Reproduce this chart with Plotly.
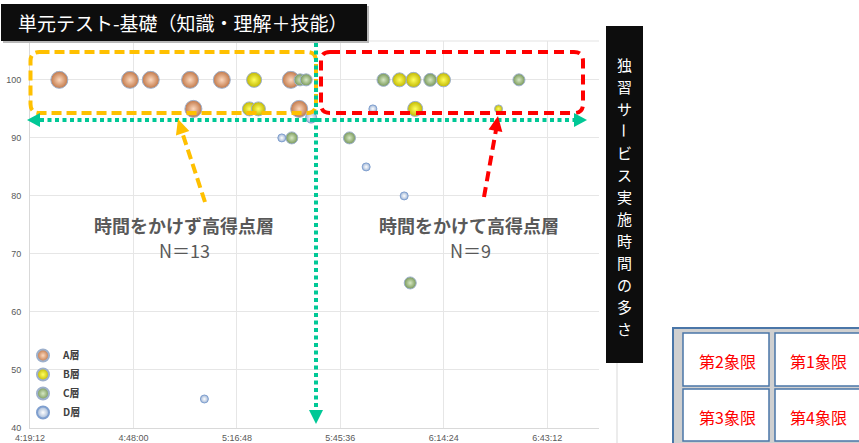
import math
import plotly.graph_objects as go

# ---------------- data ----------------
x_tick_labels = ["4:19:12", "4:48:00", "5:16:48", "5:45:36", "6:14:24", "6:43:12"]
x_max_label = "6:57:36"
y_ticks = [40, 50, 60, 70, 80, 90, 100]
y_max = 106.7

series_names = ["A層", "B層", "C層", "D層"]

a_time = ["4:27:22", "4:47:03", "4:52:49", "5:03:46", "5:12:36", "5:31:49", "5:04:41", "5:34:08"]
a_score = [100, 100, 100, 100, 100, 100, 95, 95]
a_bubble = [17, 17, 17, 17, 17, 17, 17, 17]

b_time = ["5:21:35", "6:02:04", "6:05:58", "6:14:19", "5:20:17", "5:22:47", "6:06:26", "6:29:38"]
b_score = [100, 100, 100, 100, 95, 95, 95, 95]
b_bubble = [15, 14, 15, 14, 14, 14, 15, 8]

c_time = ["5:34:24", "5:36:05", "5:57:36", "6:10:37", "6:35:19", "5:32:05", "5:48:08", "6:05:03"]
c_score = [100, 100, 100, 100, 100, 90, 90, 65]
c_bubble = [12, 12, 13, 13, 12, 12, 12, 12]

d_time = ["5:54:39", "5:37:28", "5:29:18", "5:52:47", "6:03:22", "5:07:45"]
d_score = [95, 93.5, 90, 85, 80, 45]
d_bubble = [8, 11, 8, 8, 8, 8]

title_text = "単元テスト-基礎（知識・理解＋技能）"
side_text = "独習サービス実施時間の多さ"
label_left = "時間をかけず高得点層"
label_left_n = "N＝13"
label_right = "時間をかけて高得点層"
label_right_n = "N＝9"
quadrants = ["第2象限", "第1象限", "第3象限", "第4象限"]


def hms(s):
    h, m, sec = map(int, s.split(":"))
    return h * 3600 + m * 60 + sec


# ---------------- layout geometry (pixels) ----------------
W, H = 859, 443
L, R, T, B = 30, 599, 41, 428
JP = "Noto Sans CJK JP"


def px(x):
    return (x - L) / (R - L)


def py(y):
    return (B - y) / (B - T)


styles = {
    "A層": dict(color="#C27848", center="#FCD8BE", line="#9DB0CC"),
    "B層": dict(color="#C2B800", center="#FFFF60", line="#9DB0CC"),
    "C層": dict(color="#789858", center="#D6E8C4", line="#9DB0CC"),
    "D層": dict(color="#A0B6D6", center="#FFFFFF", line="#7F9FCF"),
}

fig = go.Figure()
for name, tt, sc, bb in [
    ("A層", a_time, a_score, a_bubble),
    ("B層", b_time, b_score, b_bubble),
    ("C層", c_time, c_score, c_bubble),
    ("D層", d_time, d_score, d_bubble),
]:
    st = styles[name]
    fig.add_trace(go.Scatter(
        x=[hms(t) for t in tt], y=sc, mode="markers", name=name,
        marker=dict(size=bb, sizemode="diameter", color=st["color"],
                    gradient=dict(type="radial", color=st["center"]),
                    line=dict(color=st["line"], width=1), opacity=1),
        hoverinfo="skip",
    ))

shapes = []
annotations = []


def rrect_path(x0, y0, x1, y1, r):
    pts = [
        ("M", [(x0 + r, y0)]), ("L", [(x1 - r, y0)]), ("Q", [(x1, y0), (x1, y0 + r)]),
        ("L", [(x1, y1 - r)]), ("Q", [(x1, y1), (x1 - r, y1)]), ("L", [(x0 + r, y1)]),
        ("Q", [(x0, y1), (x0, y1 - r)]), ("L", [(x0, y0 + r)]), ("Q", [(x0, y0), (x0 + r, y0)]),
    ]
    s = ""
    for cmd, ps in pts:
        s += cmd + " " + " ".join(f"{px(a):.5f},{py(b):.5f}" for a, b in ps) + " "
    return s + "Z"


def tri_path(tip, frm, length, half):
    tx, ty = tip
    fx, fy = frm
    dx, dy = tx - fx, ty - fy
    n = math.hypot(dx, dy)
    ux, uy = dx / n, dy / n
    bx, by = tx - ux * length, ty - uy * length
    p1 = (bx - uy * half, by + ux * half)
    p2 = (bx + uy * half, by - ux * half)
    return "M " + " L ".join(f"{px(a):.5f},{py(b):.5f}" for a, b in [tip, p1, p2]) + " Z"


def line_px(x0, y0, x1, y1, color, width, dash="solid"):
    shapes.append(dict(type="line", xref="paper", yref="paper",
                       x0=px(x0), y0=py(y0), x1=px(x1), y1=py(y1),
                       line=dict(color=color, width=width, dash=dash), layer="above"))


def rect_px(x0, y0, x1, y1, fill, lc=None, lw=0):
    shapes.append(dict(type="rect", xref="paper", yref="paper",
                       x0=px(x0), y0=py(y0), x1=px(x1), y1=py(y1),
                       fillcolor=fill, line=dict(color=lc or fill, width=lw), layer="above"))


# top boundary line of plot area
shapes.append(dict(type="line", xref="paper", yref="paper", x0=0, x1=1, y0=1, y1=1,
                   line=dict(color="#E3E3E3", width=1), layer="below"))

TEAL = "#00C896"
ORANGE = "#FFC000"
RED = "#FF0000"

# dashed quadrant boxes
shapes.append(dict(type="path", xref="paper", yref="paper", path=rrect_path(30.5, 52, 316, 113, 9),
                   line=dict(color=ORANGE, width=4, dash="10px,5px"), layer="above"))
shapes.append(dict(type="path", xref="paper", yref="paper", path=rrect_path(321, 52, 583, 113, 9),
                   line=dict(color=RED, width=4, dash="10px,6px"), layer="above"))

# teal dotted arrows
line_px(40, 120, 574, 120, TEAL, 4, "4px,3.5px")
shapes.append(dict(type="path", xref="paper", yref="paper", path=tri_path((27, 120), (60, 120), 13, 7),
                   fillcolor=TEAL, line=dict(color=TEAL, width=0), layer="above"))
shapes.append(dict(type="path", xref="paper", yref="paper", path=tri_path((587, 120), (550, 120), 13, 7),
                   fillcolor=TEAL, line=dict(color=TEAL, width=0), layer="above"))
line_px(316, 43, 316, 410, TEAL, 4, "4px,3.5px")
shapes.append(dict(type="path", xref="paper", yref="paper", path=tri_path((316, 424), (316, 380), 14, 7),
                   fillcolor=TEAL, line=dict(color=TEAL, width=0), layer="above"))

# orange dashed arrow
line_px(205, 202, 182, 132, ORANGE, 4, "10px,5px")
shapes.append(dict(type="path", xref="paper", yref="paper", path=tri_path((178, 119), (205, 202), 15, 7),
                   fillcolor=ORANGE, line=dict(color=ORANGE, width=0), layer="above"))
# red dashed arrow
line_px(484, 197, 496, 130, RED, 4, "10px,6px")
shapes.append(dict(type="path", xref="paper", yref="paper", path=tri_path((498, 116), (484, 197), 15, 7),
                   fillcolor=RED, line=dict(color=RED, width=0), layer="above"))

# title box with shadow
rect_px(3, 6, 369, 43, "#B8B8B8")
rect_px(1, 4, 367, 41, "#0D0D0D")
annotations.append(dict(xref="paper", yref="paper", x=px(16), y=py(22.5), xanchor="left", yanchor="middle",
                        text=title_text, showarrow=False, font=dict(family=JP, size=19, color="#FFFFFF")))

# side vertical box: one character per line, the long-vowel mark rotated
rect_px(606, 26, 643, 363, "#0D0D0D")
SIDE_FS = 15
step = 22
start = 196.5 - 6 * step
for i, ch in enumerate(side_text):
    annotations.append(dict(xref="paper", yref="paper", x=px(624.5), y=py(start + i * step),
                            xanchor="center", yanchor="middle", text=ch, showarrow=False,
                            textangle=90 if ch == "ー" else 0, borderpad=0,
                            font=dict(family=JP, size=SIDE_FS, color="#FFFFFF")))
line_px(617, 363, 617, 445, "#D9D9D9", 1)

# quadrant table
rect_px(673, 328, 880, 460, "#D0D0D0", "#4A76A8", 2)
cells = [(683, 333, 769, 386), (775, 333, 880, 386), (683, 389, 769, 441), (775, 389, 880, 441)]
centers = [(727, 361), (818, 361), (727, 417), (818, 417)]
for (x0, y0, x1, y1), (cx, cy), q in zip(cells, centers, quadrants):
    rect_px(x0, y0, x1, y1, "#FFFFFF", "#4A76A8", 1.5)
    annotations.append(dict(xref="paper", yref="paper", x=px(cx), y=py(cy), xanchor="center",
                            yanchor="middle", text=q, showarrow=False,
                            font=dict(family=JP, size=16, color="#FF0000")))

# group labels
for text, cx, cy, bold in [(label_left, 184, 225, True), (label_left_n, 184, 250, False),
                           (label_right, 469, 225, True), (label_right_n, 470, 250, False)]:
    annotations.append(dict(xref="paper", yref="paper", x=px(cx), y=py(cy), xanchor="center",
                            yanchor="middle", text=(f"<b>{text}</b>" if bold else text), showarrow=False,
                            font=dict(family=JP, size=18, color="#595959")))

x_tick_vals = [hms(t) for t in x_tick_labels]

fig.update_layout(
    width=W, height=H,
    margin=dict(l=L, r=W - R, t=T, b=H - B, pad=0, autoexpand=False),
    paper_bgcolor="#FFFFFF", plot_bgcolor="#FFFFFF",
    shapes=shapes, annotations=annotations,
    showlegend=True,
    legend=dict(x=px(23), xanchor="left", y=py(341), yanchor="top",
                bgcolor="rgba(0,0,0,0)", borderwidth=0, itemsizing="constant",
                tracegroupgap=0,
                font=dict(family=JP, size=10, color="#404040", weight="bold")),
    xaxis=dict(range=[x_tick_vals[0], hms(x_max_label)], tickvals=x_tick_vals, ticktext=x_tick_labels,
               showgrid=True, gridcolor="#E6E6E6", gridwidth=1, zeroline=False, automargin=False,
               showline=True, linecolor="#D9D9D9", linewidth=1, ticks="",
               tickfont=dict(family="Liberation Sans", size=9, color="#595959"),
               ticklabelstandoff=1),
    yaxis=dict(range=[y_ticks[0], y_max], tickvals=y_ticks, ticktext=[str(v) for v in y_ticks],
               showgrid=True, gridcolor="#E6E6E6", gridwidth=1, zeroline=False, automargin=False,
               showline=True, linecolor="#D9D9D9", linewidth=1, ticks="",
               tickfont=dict(family="Liberation Sans", size=9, color="#595959"),
               ticklabelstandoff=6),
)

fig.write_html("out.html")
